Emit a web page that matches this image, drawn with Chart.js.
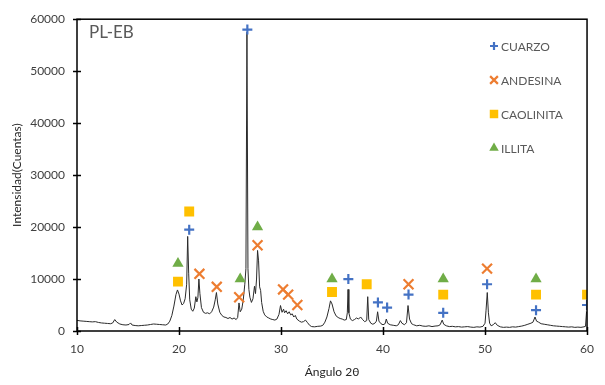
<!DOCTYPE html>
<html>
<head>
<meta charset="utf-8">
<script src="https://cdn.jsdelivr.net/npm/chart.js@4.4.1/dist/chart.umd.min.js"></script>
<style>
  html, body { margin: 0; padding: 0; background: #fff; }
  #wrap { width: 605px; height: 385px; position: relative; }
</style>
</head>
<body>
<div id="wrap"><canvas id="xrd"></canvas></div>
<script>
// difractograma PL-EB
var patternAngle = [
  10.0, 10.3, 10.6, 10.9, 11.2, 11.5, 11.8, 12.1, 12.4, 12.7, 13.0, 13.3, 13.5, 13.7, 13.9,
  14.2, 14.5, 14.8, 15.1, 15.25, 15.4, 15.7, 16.0, 16.3, 16.6, 16.9, 17.2, 17.5, 17.8, 18.1,
  18.4, 18.7, 18.9, 19.1, 19.3, 19.5, 19.7, 19.85, 20.0, 20.15, 20.3, 20.45, 20.6, 20.75, 20.85,
  20.95, 21.05, 21.2, 21.35, 21.5, 21.65, 21.75, 21.85, 21.95, 22.05, 22.2, 22.4, 22.6, 22.8, 23.0,
  23.2, 23.4, 23.55, 23.67, 23.8, 24.0, 24.2, 24.4, 24.6, 24.8, 25.0, 25.2, 25.4, 25.6, 25.75,
  25.88, 26.0, 26.15, 26.3, 26.45, 26.56, 26.66, 26.76, 26.85, 26.95, 27.1, 27.25, 27.4, 27.5, 27.6,
  27.7, 27.8, 27.9, 28.0, 28.1, 28.25, 28.4, 28.6, 28.8, 29.0, 29.2, 29.4, 29.6, 29.8, 29.95,
  30.1, 30.25, 30.35, 30.5, 30.65, 30.8, 30.95, 31.1, 31.25, 31.4, 31.55, 31.8, 32.0, 32.2, 32.4,
  32.6, 32.8, 33.0, 33.3, 33.6, 33.9, 34.1, 34.3, 34.5, 34.7, 34.85, 35.0, 35.2, 35.4, 35.6,
  35.8, 36.0, 36.2, 36.4, 36.5, 36.57, 36.65, 36.8, 37.0, 37.2, 37.4, 37.6, 37.8, 38.0, 38.2,
  38.4, 38.5, 38.6, 38.8, 39.0, 39.2, 39.35, 39.47, 39.6, 39.8, 40.0, 40.2, 40.32, 40.45, 40.7,
  41.0, 41.3, 41.5, 41.7, 41.85, 42.1, 42.3, 42.45, 42.6, 42.8, 43.0, 43.3, 43.6, 43.9, 44.2,
  44.5, 44.8, 45.1, 45.4, 45.6, 45.8, 45.95, 46.2, 46.5, 46.8, 47.1, 47.4, 47.7, 48.0, 48.3,
  48.6, 48.9, 49.2, 49.5, 49.8, 50.0, 50.1, 50.22, 50.33, 50.45, 50.6, 50.8, 51.0, 51.2, 51.5,
  51.8, 52.1, 52.4, 52.7, 53.0, 53.3, 53.6, 53.9, 54.2, 54.5, 54.7, 54.9, 55.05, 55.25, 55.5,
  55.8, 56.1, 56.4, 56.7, 57.0, 57.3, 57.6, 57.9, 58.2, 58.5, 58.8, 59.1, 59.4, 59.7, 59.85,
  59.95, 60.0
];
var patternCounts = [
  2050, 1950, 1900, 1850, 1800, 1750, 1800, 1650, 1550, 1500, 1450, 1400, 1550, 2200, 1700,
  1350, 1200, 1150, 1250, 1550, 1150, 1050, 1000, 1050, 1100, 1150, 1250, 1350, 1300, 1250,
  1200, 1150, 1350, 1900, 3000, 4800, 7000, 7900, 7100, 5800, 5000, 5300, 6200, 9000, 18200,
  11000, 6000, 4200, 3800, 4400, 6600, 5600, 6400, 10000, 7200, 4500, 3600, 3400, 3500, 3300,
  3700, 4600, 6000, 7400, 5200, 3600, 3000, 2700, 2600, 2400, 2600, 2300, 2500, 2200, 2600,
  5400, 3700, 4200, 6000, 9000, 12000, 57500, 12000, 8000, 6500, 5500, 6200, 8600, 7200, 10000,
  15500, 13500, 8500, 7800, 5500, 3800, 3100, 2700, 2500, 2300, 2200, 2100, 2300, 3200, 4900,
  3600, 4200, 3500, 3900, 3300, 3700, 3100, 3300, 2700, 3000, 2300, 1900, 1700, 1800, 2100,
  1600, 1100, 850, 800, 900, 950, 1100, 1700, 2700, 4300, 5800, 5200, 3700, 2900, 2600,
  2400, 2300, 2100, 2200, 3500, 8000, 3500, 2300, 2000, 2200, 2500, 2300, 2700, 2200, 1800,
  2000, 6600, 2200, 1500, 1300, 1500, 1900, 3700, 1900, 1400, 1200, 1400, 2300, 1500, 1200,
  1100, 1000, 1200, 2000, 1500, 1200, 1600, 4900, 2300, 1400, 1200, 1000, 1100, 950, 900,
  1000, 850, 950, 1000, 1200, 2100, 1300, 1000, 850, 900, 800, 850, 750, 800, 850,
  750, 700, 800, 750, 900, 1500, 4000, 7400, 3500, 1500, 1000, 1200, 1600, 1100, 800,
  700, 750, 700, 800, 750, 850, 950, 1100, 1300, 1500, 1700, 2700, 1900, 1700, 1400,
  1300, 1200, 1100, 1000, 950, 900, 850, 800, 750, 800, 700, 750, 700, 800, 900,
  3700, 3600
];

// marcadores de fases
var cuarzoAngle = [21.0, 26.7, 36.6, 39.5, 40.4, 42.5, 45.9, 50.2, 55.0, 60.0];
var cuarzoCounts = [19500, 58000, 10000, 5500, 4500, 7000, 3500, 9000, 4000, 5000];
var andesinaAngle = [22.0, 23.7, 25.9, 27.7, 30.2, 30.7, 31.6, 42.5, 50.2];
var andesinaCounts = [11000, 8500, 6500, 16500, 8000, 7000, 5000, 9000, 12000];
var caolinitaAngle = [19.9, 21.0, 35.0, 38.4, 45.9, 55.0, 60.0];
var caolinitaCounts = [9500, 23000, 7500, 9000, 7000, 7000, 7000];
var illitaAngle = [19.9, 26.0, 27.7, 35.0, 45.9, 55.0];
var illitaCounts = [13000, 10000, 20000, 10000, 10000, 10000];

var xTicks = [10, 20, 30, 40, 50, 60];
var yTicks = [0, 10000, 20000, 30000, 40000, 50000, 60000];

function pts(xs, ys) {
  return xs.map(function (x, i) { return { x: x, y: ys[i] }; });
}

var FONT = 'Lato, "Open Sans", sans-serif';

var phases = [
  { label: 'CUARZO', xs: cuarzoAngle, ys: cuarzoCounts, color: '#4472C4', style: 'cross', r: 5, w: 2.2, lr: 4 },
  { label: 'ANDESINA', xs: andesinaAngle, ys: andesinaCounts, color: '#ED7D31', style: 'crossRot', r: 7, w: 2.2, lr: 5.5 },
  { label: 'CAOLINITA', xs: caolinitaAngle, ys: caolinitaCounts, color: '#FFC000', style: 'rect', r: 7, w: 0, lr: 6 },
  { label: 'ILLITA', xs: illitaAngle, ys: illitaCounts, color: '#70AD47', style: 'triangle', r: 6.5, w: 0, lr: 5.5 }
];

var datasets = phases.map(function (p) {
  return {
    label: p.label,
    data: pts(p.xs, p.ys),
    pointStyle: p.style,
    pointRadius: p.r,
    pointHoverRadius: p.r,
    pointBorderWidth: p.w,
    pointBackgroundColor: p.color,
    pointBorderColor: p.color,
    showLine: false,
    order: 1
  };
});
datasets.push({
  label: 'PL-EB',
  data: pts(patternAngle, patternCounts),
  showLine: true,
  borderColor: '#2b2b2b',
  borderWidth: 1,
  pointRadius: 0,
  tension: 0,
  order: 2
});

// marco, marcas de eje cruzadas, rótulo y leyenda
var frame = {
  id: 'frame',
  afterDraw: function (chart) {
    var ctx = chart.ctx, a = chart.chartArea;
    var xs = chart.scales.x, ys = chart.scales.y;
    ctx.save();
    ctx.strokeStyle = '#000';
    ctx.lineWidth = 1.5;
    ctx.strokeRect(a.left, a.top, a.right - a.left, a.bottom - a.top);
    ctx.beginPath();
    yTicks.forEach(function (v) {
      var y = Math.round(ys.getPixelForValue(v)) + 0.5;
      ctx.moveTo(a.left - 4, y); ctx.lineTo(a.left + 4, y);
    });
    xTicks.forEach(function (v) {
      var x = Math.round(xs.getPixelForValue(v)) + 0.5;
      ctx.moveTo(x, a.bottom - 4); ctx.lineTo(x, a.bottom + 4);
    });
    ctx.stroke();

    ctx.fillStyle = '#595959';
    ctx.font = '17px ' + FONT;
    ctx.textBaseline = 'middle';
    ctx.textAlign = 'left';
    ctx.fillText('PL-EB', a.left + 12, 33);

    ctx.font = '12px ' + FONT;
    phases.forEach(function (p, i) {
      var cy = 46 + i * 34, cx = 494;
      ctx.fillStyle = p.color;
      ctx.strokeStyle = p.color;
      ctx.lineWidth = p.w || 1;
      Chart.helpers.drawPoint(ctx, { pointStyle: p.style, radius: p.lr, rotation: 0, borderWidth: p.w }, cx, cy);
      ctx.fillStyle = '#595959';
      ctx.fillText(p.label, cx + 7, cy + 1);
    });
    ctx.restore();
  }
};

new Chart(document.getElementById('xrd'), {
  type: 'scatter',
  data: { datasets: datasets },
  options: {
    responsive: true,
    maintainAspectRatio: false,
    animation: false,
    layout: { padding: { top: 14, right: 15, left: 0, bottom: 0 } },
    plugins: { legend: { display: false }, tooltip: { enabled: false } },
    scales: {
      x: {
        type: 'linear', min: 10, max: 60,
        afterFit: function (s) { s.height = 54; },
        afterBuildTicks: function (s) { s.ticks = xTicks.map(function (v) { return { value: v }; }); },
        grid: { display: false, drawTicks: false },
        border: { display: false },
        ticks: { padding: 11, color: '#404040', font: { family: FONT, size: 12 }, maxRotation: 0,
          callback: function (v) { return String(v); } },
        title: { display: true, text: 'Ángulo 2θ', color: '#262626', font: { family: FONT, size: 12 }, padding: { top: 0, bottom: 6 } }
      },
      y: {
        type: 'linear', min: 0, max: 60000,
        afterFit: function (s) { s.width = 77; },
        afterBuildTicks: function (s) { s.ticks = yTicks.map(function (v) { return { value: v }; }); },
        grid: { display: false, drawTicks: false },
        border: { display: false },
        ticks: { padding: 12, color: '#404040', font: { family: FONT, size: 12 },
          callback: function (v) { return String(v); } },
        title: { display: true, text: 'Intensidad(Cuentas)', color: '#262626', font: { family: FONT, size: 12 }, padding: { top: 10, bottom: 0 } }
      }
    }
  },
  plugins: [frame]
});
</script>
</body>
</html>
